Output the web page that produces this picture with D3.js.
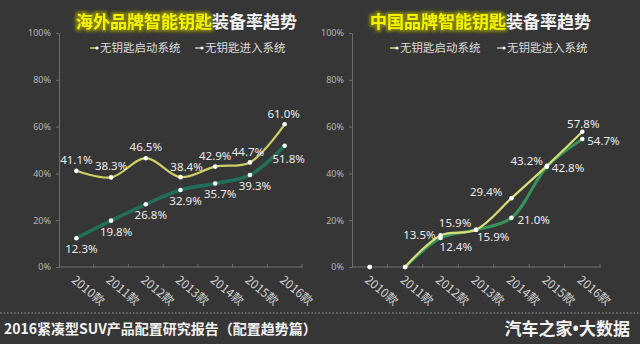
<!DOCTYPE html>
<html><head><meta charset="utf-8">
<script src="https://cdn.jsdelivr.net/npm/d3@7"></script>
<style>
html,body{margin:0;padding:0;background:#363636;}
svg{display:block;}
</style></head><body>
<svg id="chart" width="640" height="344"></svg>
<script>
// ---- data ----
const years = ["2010款","2011款","2012款","2013款","2014款","2015款","2016款"];
const yTicks = [0, 20, 40, 60, 80, 100];
const seriesNames = ["无钥匙启动系统", "无钥匙进入系统"];
// overseas brands (%)
const foreignStart = [41.1, 38.3, 46.5, 38.4, 42.9, 44.7, 61.0];
const foreignEntry = [12.3, 19.8, 26.8, 32.9, 35.7, 39.3, 51.8];
// Chinese brands (%)
const domesticStart = [0, 0, 13.5, 15.9, 29.4, 43.2, 57.8];
const domesticEntry = [0, 0, 12.4, 15.9, 21.0, 42.8, 54.7];
const titleHighlights = ["海外品牌智能钥匙", "中国品牌智能钥匙"];
const titleRest = "装备率趋势";
const footerLeft = "2016紧凑型SUV产品配置研究报告（配置趋势篇）";
const footerRight = ["汽车之家", "•", "大数据"];

// ---- layout / style ----
const CJK = "'Noto Sans CJK SC','Noto Sans',sans-serif";
const NUM = "'Noto Sans','Liberation Sans',sans-serif";
const yTop = 33, yBottom = 267;

// value-label placement per point: [anchor, dx, dy]
const ab = ["middle", 0, -11], be = ["middle", 5, 11];
const panels = [
  {
    x0: 59, x1: 302, titleX: 76, legendX: [90, 195], lineFrom: 0,
    series: [
      { values: foreignStart, color: "#cfd066", width: 2.2,
        labels: [ab, ab, ab, ["middle", 6, -10], ab, ["middle", -2, -10], ["middle", -1, -10]] },
      { values: foreignEntry, color: "#226e5a", width: 3.6,
        labels: [be, be, be, be, be, be, ["middle", 4, 13]] }
    ]
  },
  {
    x0: 352, x1: 600, titleX: 370, legendX: [390, 497], lineFrom: 1,
    series: [
      { values: domesticStart, color: "#d8df7a", width: 2.2,
        labels: [null, null, ["end", -5, 0], ["middle", -21, -7], ["end", -9, -6], ["end", -4, -5], ["middle", 1, -8]] },
      { values: domesticEntry, color: "#37935a", width: 3,
        labels: [null, null, ["start", -1, 9], ["start", 1, 7], ["start", 6, 2], ["start", 5, 1], ["start", 5, 2]] }
    ]
  }
];

const svg = d3.select("#chart");
svg.append("rect").attr("width", 640).attr("height", 344).attr("fill", "#363636");

const defs = svg.append("defs");
const glow = defs.append("filter").attr("id", "glow")
  .attr("x", "-10%").attr("y", "-40%").attr("width", "120%").attr("height", "180%");
glow.append("feMorphology").attr("in", "SourceAlpha").attr("operator", "dilate").attr("radius", 1.5).attr("result", "d");
glow.append("feGaussianBlur").attr("in", "d").attr("stdDeviation", 1.6).attr("result", "b");
glow.append("feFlood").attr("flood-color", "#8a8a10").attr("flood-opacity", 0.9);
glow.append("feComposite").attr("in2", "b").attr("operator", "in").attr("result", "g");
const gm = glow.append("feMerge");
gm.append("feMergeNode").attr("in", "g");
gm.append("feMergeNode").attr("in", "SourceGraphic");

const y = d3.scaleLinear().domain([0, 100]).range([yBottom, yTop]);

panels.forEach((p, pi) => {
  const g = svg.append("g");
  const x = d3.scaleBand().domain(years).range([p.x0, p.x1]).paddingInner(0).paddingOuter(0);
  const cx = d => x(d) + x.bandwidth() / 2;

  // title
  const t1 = g.append("text").attr("x", p.titleX).attr("y", 28)
    .attr("font-family", CJK).attr("font-size", 17).attr("font-weight", 700)
    .attr("fill", "#f4f400").attr("filter", "url(#glow)").text(titleHighlights[pi]);
  const w1 = t1.node().getComputedTextLength();
  g.append("text").attr("x", p.titleX + w1).attr("y", 28)
    .attr("font-family", CJK).attr("font-size", 17).attr("font-weight", 700)
    .attr("fill", "#f2f2f2").text(titleRest);

  // legend
  seriesNames.forEach((name, si) => {
    const lx = p.legendX[si];
    g.append("line").attr("x1", lx).attr("x2", lx + 7).attr("y1", 48).attr("y2", 48)
      .attr("stroke", si === 0 ? p.series[0].color : "#bbbbbb").attr("stroke-width", 1.5);
    g.append("circle").attr("cx", lx + 7).attr("cy", 48).attr("r", 1.6).attr("fill", "#fff");
    g.append("text").attr("x", lx + 10).attr("y", 48).attr("dy", "0.35em")
      .attr("font-family", CJK).attr("font-size", 11.5).attr("fill", "#dddddd").text(name);
  });

  // y axis
  const ya = g.append("g").attr("transform", `translate(${p.x0},0)`)
    .call(d3.axisLeft(y).tickValues(yTicks).tickFormat(d => d + "%").tickSize(3).tickPadding(5));
  ya.select(".domain").attr("stroke", "#6e6e6e");
  ya.selectAll(".tick line").attr("stroke", "#6e6e6e");
  ya.selectAll(".tick text").attr("fill", "#b4b4b4").attr("font-family", NUM).attr("font-size", 9);

  // x axis: baseline with small ticks on band boundaries
  g.append("line").attr("x1", p.x0).attr("x2", p.x1).attr("y1", yBottom).attr("y2", yBottom)
    .attr("stroke", "#6e6e6e");
  g.selectAll(".xt").data(years.slice(1)).join("line")
    .attr("x1", d => x(d)).attr("x2", d => x(d)).attr("y1", yBottom - 3).attr("y2", yBottom + 1)
    .attr("stroke", "#6e6e6e");
  g.append("line").attr("x1", p.x1).attr("x2", p.x1).attr("y1", yBottom - 3).attr("y2", yBottom + 1)
    .attr("stroke", "#6e6e6e");
  g.selectAll(".xl").data(years).join("text")
    .attr("transform", d => `translate(${cx(d) - 3},${yBottom + 11}) rotate(40)`)
    .attr("dy", "0.35em")
    .attr("font-family", CJK).attr("font-size", 12).attr("fill", "#cfcfcf").text(d => d);

  // lines (drawn back to front)
  const line = d3.line()
    .defined((d, i) => i >= p.lineFrom)
    .x((d, i) => cx(years[i])).y(d => y(d))
    .curve(d3.curveCatmullRom.alpha(0.5));
  p.series.slice().reverse().forEach(s => {
    g.append("path").datum(s.values).attr("d", line)
      .attr("fill", "none").attr("stroke", s.color).attr("stroke-width", s.width)
      .attr("stroke-linecap", "round").attr("stroke-linejoin", "round");
  });

  // points and value labels
  p.series.forEach(s => {
    g.selectAll(null).data(s.values).join("circle")
      .attr("cx", (d, i) => cx(years[i])).attr("cy", d => y(d)).attr("r", 2.3)
      .attr("fill", "#ffffff");
    g.selectAll(null).data(s.values.map((v, i) => ({ v, i, l: s.labels[i] })).filter(d => d.l))
      .join("text")
      .attr("x", d => cx(years[d.i]) + d.l[1]).attr("y", d => y(d.v) + d.l[2])
      .attr("dy", "0.35em").attr("text-anchor", d => d.l[0])
      .attr("font-family", NUM).attr("font-size", 11.5).attr("fill", "#ececec")
      .text(d => d.v.toFixed(1) + "%");
  });
});

// footer
svg.append("line").attr("x1", 0).attr("x2", 640).attr("y1", 313).attr("y2", 313)
  .attr("stroke", "#9a9a9a").attr("stroke-width", 1).attr("stroke-dasharray", "1.5,2");
svg.append("text").attr("x", 4).attr("y", 329).attr("dy", "0.35em")
  .attr("font-family", CJK).attr("font-size", 14).attr("font-weight", 700)
  .attr("fill", "#f2f2f2").text(footerLeft);
const fr = svg.append("text").attr("x", 630).attr("y", 329).attr("dy", "0.35em").attr("text-anchor", "end")
  .attr("font-family", CJK).attr("font-size", 17).attr("font-weight", 700)
  .attr("fill", "#f2f2f2");
fr.append("tspan").text(footerRight[0]);
fr.append("tspan").attr("font-family", NUM).text(footerRight[1]);
fr.append("tspan").text(footerRight[2]);
</script>
</body></html>
